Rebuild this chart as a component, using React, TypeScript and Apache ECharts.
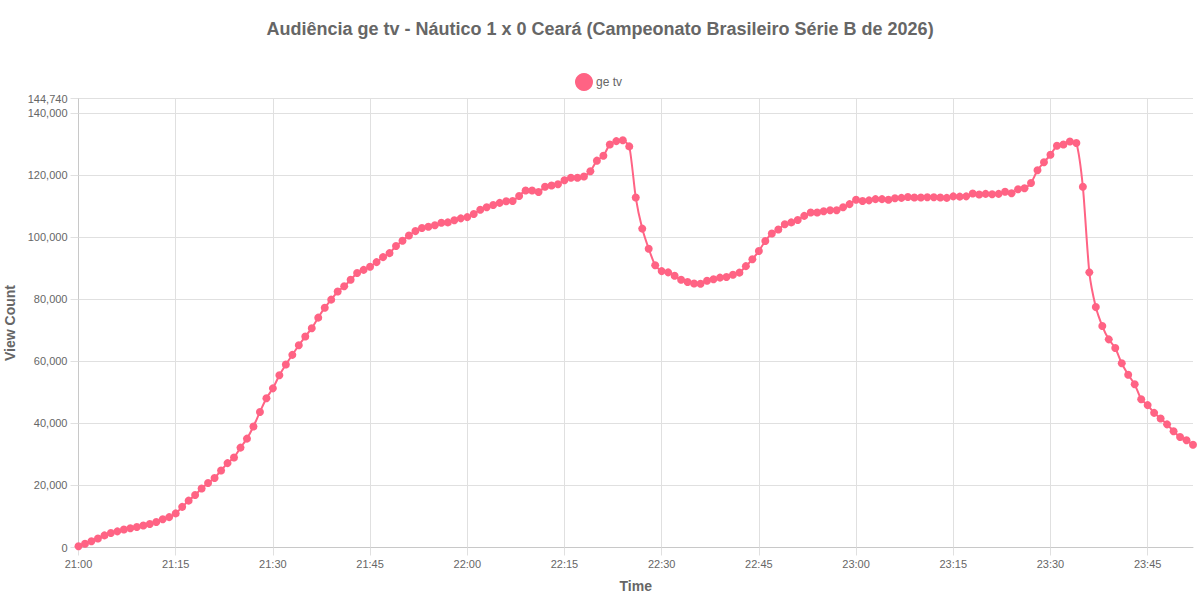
import { useEffect, useRef } from "react";
import * as echarts from "echarts";

const TITLE = "Audiência ge tv - Náutico 1 x 0 Ceará (Campeonato Brasileiro Série B de 2026)";
const SERIES_NAME = "ge tv";

// one label per minute, 21:00 to 23:52
const times: string[] = [];
for (let h = 21; h <= 23; h++) {
  for (let m = 0; m < 60; m++) {
    if (h === 23 && m > 52) break;
    times.push(`${h}:${String(m).padStart(2, "0")}`);
  }
}

// view counts in thousands
const viewsK = [
  0.4, 1.2, 2.0, 2.9, 3.9, 4.7, 5.2, 5.8, 6.2, 6.6, 7.1, 7.6, 8.2, 9.1, 9.8,
  11.0, 13.1, 15.1, 16.9, 19.0, 20.8, 22.4, 24.8, 27.2, 29.0, 32.2, 35.1, 39.0, 43.7, 48.1,
  51.3, 55.5, 59.0, 62.1, 65.2, 68.0, 70.7, 74.1, 77.3, 79.9, 82.5, 84.2, 86.3, 88.5, 89.5,
  90.5, 92.0, 93.6, 94.9, 97.2, 98.9, 100.6, 102.0, 103.0, 103.4, 103.9, 104.7, 104.8, 105.5, 106.1,
  106.5, 107.5, 108.9, 109.7, 110.4, 111.1, 111.6, 111.7, 113.3, 115.1, 115.1, 114.6, 116.3, 116.7, 117.1,
  118.4, 119.2, 119.2, 119.6, 121.3, 124.7, 126.3, 129.9, 131.0, 131.3, 129.3, 112.8, 102.8, 96.3, 91.0,
  89.1, 88.7, 87.6, 86.3, 85.6, 85.1, 85.0, 86.0, 86.5, 87.0, 87.2, 87.9, 88.6, 90.7, 92.9,
  95.6, 98.8, 101.2, 102.5, 104.2, 104.8, 105.6, 106.9, 108.0, 108.0, 108.4, 108.7, 108.7, 109.7, 110.7,
  112.1, 111.7, 111.9, 112.3, 112.3, 112.1, 112.6, 112.7, 113.0, 112.8, 112.8, 112.9, 112.9, 112.8, 112.7,
  113.2, 113.1, 113.2, 114.1, 113.8, 114.0, 113.9, 114.0, 114.7, 114.2, 115.5, 115.8, 117.5, 121.6, 124.2,
  126.6, 129.5, 129.9, 130.9, 130.4, 116.3, 88.7, 77.5, 71.4, 67.1, 64.3, 59.4, 55.7, 52.6, 47.8,
  45.9, 43.4, 41.6, 39.7, 37.5, 35.6, 34.6, 33.1,
];

const Y_MAX = 144740;
const PINK = "#ff6384";
const FONT = "'Liberation Sans', Arial, sans-serif";

export default function App() {
  const chartRef = useRef<HTMLDivElement>(null);

  useEffect(() => {
    if (!chartRef.current) return;
    const chart = echarts.init(chartRef.current, undefined, { renderer: "svg" });

    const option: echarts.EChartsOption = {
      animation: false,
      backgroundColor: "#fff",
      textStyle: { fontFamily: FONT },
      title: {
        text: TITLE,
        left: "center",
        top: 15,
        textStyle: { fontFamily: FONT, fontSize: 18, fontWeight: "bold", color: "#666" },
      },
      legend: {
        data: [SERIES_NAME],
        left: 570,
        top: 68,
        icon: "circle",
        itemWidth: 18,
        itemHeight: 18,
        textStyle: { fontFamily: FONT, fontSize: 12, color: "#666", padding: [0, 0, 2, -2] },
      },
      grid: { left: 78.5, right: 7, top: 98.5, bottom: 52.5, outerBoundsMode: "none" },
      xAxis: {
        type: "category",
        data: times,
        boundaryGap: false,
        name: "Time",
        nameLocation: "middle",
        nameGap: 31,
        nameTextStyle: { fontFamily: FONT, fontSize: 14, fontWeight: "bold", color: "#666" },
        axisLine: { lineStyle: { color: "#c8c8c8", width: 1 } },
        axisTick: { show: true, interval: 14, length: 8, lineStyle: { color: "#e0e0e0" } },
        axisLabel: { interval: 14, fontFamily: FONT, fontSize: 11, color: "#666", margin: 11 },
        splitLine: { show: true, interval: 14, lineStyle: { color: "#e0e0e0", width: 1 } },
      },
      yAxis: {
        type: "value",
        min: 0,
        max: Y_MAX,
        interval: 20000,
        name: "View Count",
        nameLocation: "middle",
        nameGap: 60,
        nameTextStyle: { fontFamily: FONT, fontSize: 14, fontWeight: "bold", color: "#666" },
        axisLine: { show: true, lineStyle: { color: "#c8c8c8", width: 1 } },
        axisTick: { show: true, length: 8, lineStyle: { color: "#e0e0e0" } },
        axisLabel: {
          fontFamily: FONT,
          fontSize: 11,
          color: "#666",
          margin: 11,
          padding: [0, 0, 2, 0],
          formatter: (v: number) => v.toLocaleString("en-US"),
        },
        splitLine: { show: true, lineStyle: { color: "#e0e0e0", width: 1 } },
      },
      series: [
        {
          name: SERIES_NAME,
          type: "line",
          data: viewsK.map((v) => v * 1000),
          smooth: 0.2,
          symbol: "circle",
          symbolSize: 8,
          showAllSymbol: true,
          lineStyle: { color: PINK, width: 2 },
          itemStyle: { color: PINK },
        },
      ],
    };

    chart.setOption(option);
    return () => chart.dispose();
  }, []);

  return (
    <div
      ref={chartRef}
      style={{ position: "absolute", left: 0, top: 0, width: 1200, height: 600 }}
    />
  );
}
